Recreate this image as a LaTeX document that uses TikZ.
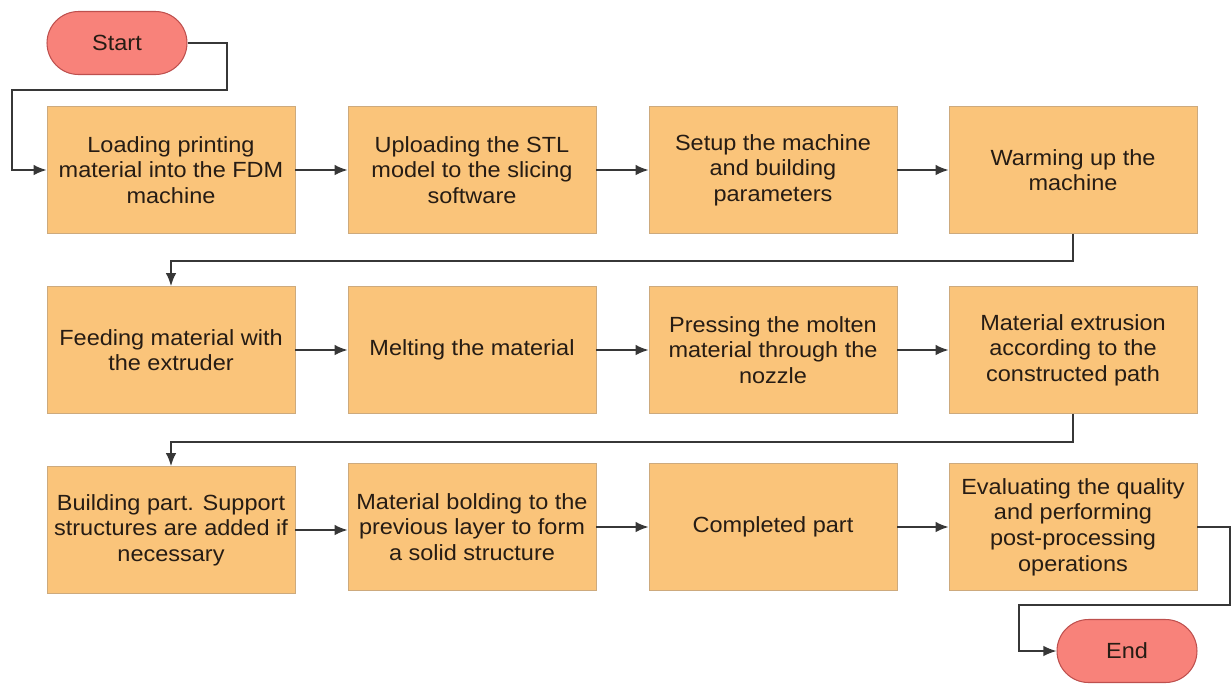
\documentclass[tikz,border=0pt]{standalone}
\usepackage{fontspec}
\setmainfont[FakeStretch=1.07]{Liberation Sans}
\usepackage{tikz}
\usetikzlibrary{arrows.meta,positioning}

\definecolor{boxfill}{RGB}{250,196,122}
\definecolor{boxline}{RGB}{205,170,125}
\definecolor{termfill}{RGB}{248,130,122}
\definecolor{termline}{RGB}{190,80,78}
\definecolor{lnk}{RGB}{55,55,55}
\definecolor{txt}{RGB}{38,28,20}

\begin{document}
\begin{tikzpicture}[
  x=0.02cm, y=-0.02cm,
  font=\fontsize{12.5}{14.6}\selectfont, text=txt,
  % process step
  box/.style={rectangle, draw=boxline, fill=boxfill, line width=0.5pt,
              minimum width=4.96cm, minimum height=2.54cm, align=center,
              inner sep=2pt},
  % start / end terminal
  term/.style={rectangle, draw=termline, fill=termfill, line width=0.6pt,
               rounded corners=0.63cm, minimum width=2.8cm,
               minimum height=1.26cm, align=center},
  arr/.style={-{Latex[length=2.6mm,width=2.1mm]}, draw=lnk, line width=0.85pt}
]
\useasboundingbox (0,0) rectangle (1232,684);

% ── Terminals ─────────────────────────────────────────────────────────────
\node[term] (start) at (117,43)  {Start};
\node[term] (end)   at (1127,651) {End};

% ── Row 1 ─────────────────────────────────────────────────────────────────
\node[box] (load)  at (171,170)  {Loading printing\\material into the FDM\\machine};
\node[box] (upl)   at (472,170)  {Uploading the STL\\model to the slicing\\software};
\node[box] (setup) at (773,170)  {Setup the machine\\and building\\parameters};
\node[box] (warm)  at (1073,170) {Warming up the\\machine};

% ── Row 2 ─────────────────────────────────────────────────────────────────
\node[box] (feed)  at (171,350)  {Feeding material with\\the extruder};
\node[box] (melt)  at (472,350)  {Melting the material};
\node[box] (press) at (773,350)  {Pressing the molten\\material through the\\nozzle};
\node[box] (extr)  at (1073,350) {Material extrusion\\according to the\\constructed path};

% ── Row 3 ─────────────────────────────────────────────────────────────────
\node[box] (build) at (171,530)  {Building part. Support\\structures are added if\\necessary};
\node[box] (bond)  at (472,527)  {Material bolding to the\\previous layer to form\\a solid structure};
\node[box] (done)  at (773,527)  {Completed part};
\node[box] (eval)  at (1073,527) {Evaluating the quality\\and performing\\post-processing\\operations};

% ── Connectors ────────────────────────────────────────────────────────────
\coordinate (s1) at (227,90);
\coordinate (s2) at (12,90);
\draw[arr] (start.east) -| (s1) -- (s2) |- (load.west);

\draw[arr] (load)  -- (upl);
\draw[arr] (upl)   -- (setup);
\draw[arr] (setup) -- (warm);
\draw[arr] (warm.south) -- ++(0,27) -| (feed.north);

\draw[arr] (feed)  -- (melt);
\draw[arr] (melt)  -- (press);
\draw[arr] (press) -- (extr);
\draw[arr] (extr.south) -- ++(0,28) -| (build.north);

\draw[arr] (build.east) -- (build.east -| bond.west);
\draw[arr] (bond)  -- (done);
\draw[arr] (done)  -- (eval);

\coordinate (e1) at (1230,605);
\coordinate (e2) at (1019,605);
\draw[arr] (eval.east) -| (e1) -- (e2) |- (end.west);

\end{tikzpicture}
\end{document}
